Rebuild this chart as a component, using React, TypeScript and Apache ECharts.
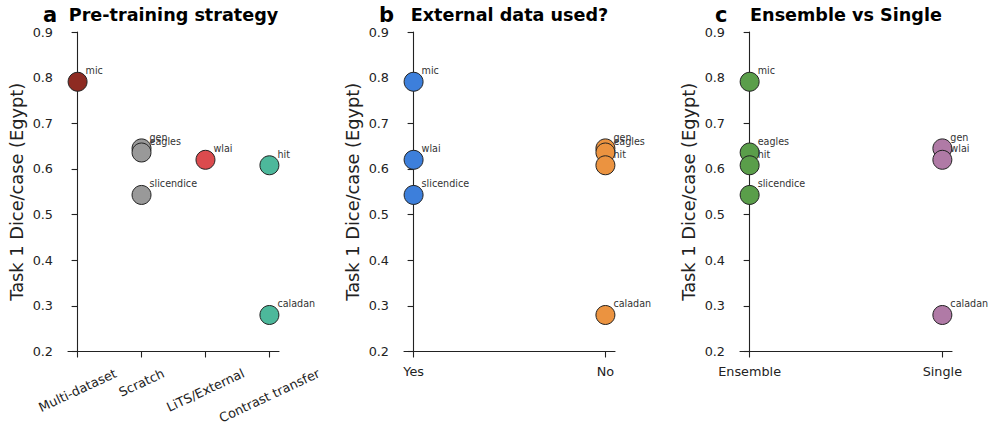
import React, { useEffect, useRef } from "react";
import * as echarts from "echarts";

const teams = ["mic", "gen", "eagles", "wlai", "hit", "slicendice", "caladan"];
const dice = [0.791, 0.645, 0.636, 0.62, 0.608, 0.543, 0.28];

const pretrainCats = ["Multi-dataset", "Scratch", "LiTS/External", "Contrast transfer"];
const pretrainOf = ["Multi-dataset", "Scratch", "Scratch", "LiTS/External", "Contrast transfer", "Scratch", "Contrast transfer"];
const pretrainColors = ["#8E2B22", "#999999", "#DB4B4E", "#4DB89B"];

const externalCats = ["Yes", "No"];
const externalOf = ["Yes", "No", "No", "Yes", "No", "Yes", "No"];
const externalColors = ["#3D7FDB", "#EB9340"];

const ensembleCats = ["Ensemble", "Single"];
const ensembleOf = ["Ensemble", "Single", "Ensemble", "Single", "Ensemble", "Ensemble", "Single"];
const ensembleColors = ["#5A9E4A", "#B07AA6"];

const panelTitles = ["Pre-training strategy", "External data used?", "Ensemble vs Single"];
const panelLetters = ["a", "b", "c"];
const yName = "Task 1 Dice/case (Egypt)";

const FONT = '"DejaVu Sans", sans-serif';
const INK = "#222";

export default function App() {
  const ref = useRef<HTMLDivElement>(null);
  useEffect(() => {
    if (!ref.current) return;
    const chart = echarts.init(ref.current, undefined, { renderer: "svg" });

    const panels = [
      { cats: pretrainCats, of: pretrainOf, colors: pretrainColors, rotated: true },
      { cats: externalCats, of: externalOf, colors: externalColors, rotated: false },
      { cats: ensembleCats, of: ensembleOf, colors: ensembleColors, rotated: false },
    ];
    const lefts = [68, 404, 740];
    const widths = [211, 211, 212];
    const top = 32;
    const height = 319.5;
    const tickFs = 12.8;

    const canvas = document.createElement("canvas");
    const ctx = canvas.getContext("2d")!;
    ctx.font = `${tickFs}px ${FONT}`;
    const rad = (25 * Math.PI) / 180;

    const grids: any[] = [];
    const xAxes: any[] = [];
    const yAxes: any[] = [];
    const series: any[] = [];
    const graphics: any[] = [];

    panels.forEach((p, gi) => {
      const n = p.cats.length;
      const pad = (n - 1) * 0.05;
      const idxs = p.cats.map((_, i) => i);
      grids.push({ left: lefts[gi], width: widths[gi], top, height, outerBoundsMode: "none", containLabel: false });
      const mainIndex = xAxes.length;
      xAxes.push({
        type: "value",
        gridIndex: gi,
        position: "bottom",
        min: -pad,
        max: n - 1 + pad,
        axisLine: { show: true, onZero: false, lineStyle: { color: INK, width: 1.1 } },
        axisTick: { show: true, customValues: idxs, length: 6, lineStyle: { color: INK, width: 1.1 } },
        splitLine: { show: false },
        axisLabel: p.rotated
          ? { show: false }
          : {
              show: true,
              customValues: idxs,
              formatter: (v: number) => p.cats[Math.round(v)],
              fontFamily: FONT,
              fontSize: tickFs,
              color: INK,
              margin: 13,
            },
      });
      if (p.rotated) {
        p.cats.forEach((c, i) => {
          const w = ctx.measureText(c).width;
          const h = tickFs * 1.2;
          const margin = 14 + (w / 2) * Math.sin(rad) + (h / 2) * Math.cos(rad);
          xAxes.push({
            type: "value",
            gridIndex: gi,
            position: "bottom",
            offset: 0,
            min: -pad,
            max: n - 1 + pad,
            axisLine: { show: false, onZero: false },
            axisTick: { show: false },
            splitLine: { show: false },
            axisLabel: {
              show: true,
              customValues: [i],
              formatter: () => c,
              rotate: 25,
              align: "center",
              verticalAlign: "middle",
              fontFamily: FONT,
              fontSize: tickFs,
              color: INK,
              margin,
            },
          });
        });
      }
      yAxes.push({
        type: "value",
        gridIndex: gi,
        position: "left",
        min: 0.2,
        max: 0.9,
        interval: 0.1,
        name: yName,
        nameLocation: "middle",
        nameGap: 43,
        nameTextStyle: { fontFamily: FONT, fontSize: 17.8, color: INK },
        axisLine: { show: true, lineStyle: { color: INK, width: 1.1 } },
        axisTick: { show: true, length: 6, lineStyle: { color: INK, width: 1.1 } },
        splitLine: { show: false },
        axisLabel: {
          fontFamily: FONT,
          fontSize: tickFs,
          color: INK,
          margin: 15,
          formatter: (v: number) => v.toFixed(1),
        },
      });
      series.push({
        type: "scatter",
        xAxisIndex: mainIndex,
        yAxisIndex: gi,
        symbol: "circle",
        symbolSize: 19,
        data: teams.map((t, k) => {
          const ci = p.cats.indexOf(p.of[k]);
          return {
            value: [ci, dice[k], t],
            itemStyle: { color: p.colors[ci], borderColor: INK, borderWidth: 1, opacity: 1 },
          };
        }),
        label: {
          show: true,
          position: "inside",
          align: "left",
          verticalAlign: "middle",
          offset: [8, -11],
          formatter: (prm: any) => prm.value[2],
          fontFamily: FONT,
          fontSize: 9.6,
          color: "#333",
        },
        emphasis: { disabled: true },
      });
      graphics.push({
        type: "text",
        x: lefts[gi] + widths[gi] / 2,
        y: 14.5,
        style: {
          text: panelTitles[gi],
          fontFamily: FONT,
          fontWeight: "bold",
          fontSize: 17.6,
          fill: "#000",
          textAlign: "center",
          textVerticalAlign: "middle",
        },
      });
      graphics.push({
        type: "text",
        x: lefts[gi] - 25,
        y: 15,
        style: {
          text: panelLetters[gi],
          fontFamily: FONT,
          fontWeight: "bold",
          fontSize: 21,
          fill: "#000",
          textAlign: "left",
          textVerticalAlign: "middle",
        },
      });
    });

    chart.setOption({
      animation: false,
      backgroundColor: "#fff",
      grid: grids,
      xAxis: xAxes,
      yAxis: yAxes,
      series,
      graphic: graphics,
    });
    return () => chart.dispose();
  }, []);
  return (
    <div
      ref={ref}
      style={{ position: "fixed", left: 0, top: 0, width: 995, height: 430 }}
    />
  );
}
